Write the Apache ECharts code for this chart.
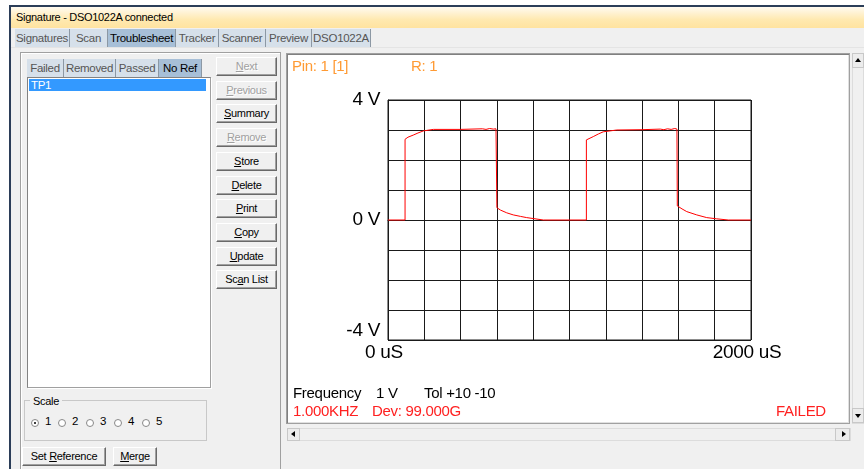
<!DOCTYPE html>
<html><head><meta charset="utf-8">
<script src="https://cdn.jsdelivr.net/npm/echarts@6/dist/echarts.min.js"></script>
<style>
html,body{margin:0;padding:0;}
body{width:864px;height:469px;overflow:hidden;background:#f0f0f0;position:relative;font-family:"Liberation Sans",Arial,sans-serif;font-size:11px;letter-spacing:-0.3px;color:#000;}
.a{position:absolute;box-sizing:border-box;}
.tab{position:absolute;top:29px;height:18px;line-height:18px;text-align:center;background:#d6e0ea;color:#555;border-right:1px solid #8c98a4;box-sizing:border-box;font-size:11.5px;}
.tab.sel{background:#a7bfd7;color:#000;}
.stab{position:absolute;top:59px;height:18px;line-height:18px;text-align:center;background:#d6e0ea;color:#555;border-right:1px solid #8c98a4;box-sizing:border-box;font-size:11.5px;}
.stab.sel{background:#a7bfd7;color:#000;}
.btn{position:absolute;height:19px;line-height:17px;text-align:center;background:#f0f0f0;box-sizing:border-box;border:1px solid;border-color:#fff #696969 #696969 #fff;box-shadow:inset -1px -1px 0 #a0a0a0;font-size:11px;}
.btn.dis{color:#a0a0a0;text-shadow:1px 1px 0 #fff;}
.radio{position:absolute;top:419px;width:8px;height:8px;border-radius:50%;border:1px solid #888;background:#fff;box-sizing:border-box;}
.rl{position:absolute;top:415px;font-size:11.5px;}
</style></head>
<body>
<div class="a" style="left:0;top:5px;width:864px;height:2px;background:#2b3d58"></div>
<div class="a" style="left:9px;top:5px;width:2px;height:464px;background:#2b3d58"></div>
<div class="a" style="left:0;top:0;width:9px;height:469px;background:#fff"></div>
<div class="a" style="left:0;top:0;width:864px;height:5px;background:#fff"></div>
<div class="a" style="left:11px;top:7px;width:853px;height:21px;background:linear-gradient(#fffaf0,#ffe9b0 60%,#ffe3a0);"></div>
<div class="a" style="left:16px;top:11px;font-size:11px;letter-spacing:-0.3px;">Signature - DSO1022A connected</div>

<div class="tab" style="left:15px;width:55px;">Signatures</div>
<div class="tab" style="left:70px;width:38px;">Scan</div>
<div class="tab sel" style="left:108px;width:68px;">Troublesheet</div>
<div class="tab" style="left:176px;width:43px;">Tracker</div>
<div class="tab" style="left:219px;width:47px;">Scanner</div>
<div class="tab" style="left:266px;width:46px;">Preview</div>
<div class="tab" style="left:312px;width:59px;">DSO1022A</div>
<div class="a" style="left:11px;top:47px;width:853px;height:1px;background:#e4e4e4"></div>

<!-- left group -->
<div class="a" style="left:20px;top:52px;width:261px;height:420px;border:1px solid #a0a0a0;box-shadow:inset 1px 1px 0 #fff;"></div>
<div class="stab" style="left:27px;width:37px;">Failed</div>
<div class="stab" style="left:64px;width:52px;">Removed</div>
<div class="stab" style="left:116px;width:43px;">Passed</div>
<div class="stab sel" style="left:159px;width:43px;">No Ref</div>
<div class="a" style="left:27px;top:77px;width:184px;height:311px;background:#fff;border:1px solid;border-color:#828282 #a0a0a0 #a0a0a0 #828282;box-shadow:1px 1px 0 #fff;"></div>
<div class="a" style="left:29px;top:79px;width:177px;height:12px;background:#3399ff;color:#fff;line-height:12px;padding-left:2px;font-size:11.5px;">TP1</div>

<div id="btns"></div>

<div class="a" style="left:24px;top:400px;width:183px;height:41px;border:1px solid #c8c8c8;"></div>
<div class="a" style="left:30px;top:395px;padding:0 3px;background:#f0f0f0;font-size:11px;">Scale</div>
<div class="radio" style="left:31px;"><div class="a" style="left:2px;top:2px;width:2px;height:2px;background:#000;border-radius:50%"></div></div>
<div class="rl" style="left:45px;">1</div>
<div class="radio" style="left:58px;"></div><div class="rl" style="left:72px;">2</div>
<div class="radio" style="left:86px;"></div><div class="rl" style="left:100px;">3</div>
<div class="radio" style="left:114px;"></div><div class="rl" style="left:128px;">4</div>
<div class="radio" style="left:142px;"></div><div class="rl" style="left:156px;">5</div>

<div class="btn" style="left:22px;top:447px;width:84px;">Set <u>R</u>eference</div>
<div class="btn" style="left:113px;top:447px;width:44px;"><u>M</u>erge</div>

<!-- right panel -->
<div class="a" style="left:286px;top:53px;width:564px;height:371px;border:1px solid #a0a0a0;border-right-color:#a0a0a0;background:#fff;box-shadow:inset 1px 1px 0 #808080, inset -1px -1px 0 #e0e0e0;"></div>
<div id="chart" class="a" style="left:289px;top:55px;width:558px;height:366px;"></div>
<!-- h scrollbar -->
<div class="a" style="left:287px;top:428px;width:564px;height:13px;background:#f0f0f0;border:1px solid #dcdcdc;"></div>
<div class="a" style="left:287px;top:428px;width:13px;height:13px;border:1px solid #c8c8c8;background:#ececec;"></div>
<div class="a" style="left:291px;top:431px;width:0;height:0;border-top:3px solid transparent;border-bottom:3px solid transparent;border-right:4px solid #000;"></div>
<div class="a" style="left:835px;top:428px;width:15px;height:13px;border:1px solid #c8c8c8;background:#ececec;"></div>
<div class="a" style="left:842px;top:431px;width:0;height:0;border-top:3px solid transparent;border-bottom:3px solid transparent;border-left:4px solid #000;"></div>
<!-- v scrollbar -->
<div class="a" style="left:852px;top:53px;width:12px;height:371px;background:#f0f0f0;border:1px solid #dcdcdc;"></div>
<div class="a" style="left:852px;top:53px;width:12px;height:15px;border:1px solid #c8c8c8;background:#ececec;"></div>
<div class="a" style="left:855px;top:58px;width:0;height:0;border-left:3px solid transparent;border-right:3px solid transparent;border-bottom:4px solid #000;"></div>
<div class="a" style="left:852px;top:408px;width:12px;height:15px;border:1px solid #c8c8c8;background:#ececec;"></div>
<div class="a" style="left:855px;top:414px;width:0;height:0;border-left:3px solid transparent;border-right:3px solid transparent;border-top:4px solid #000;"></div>

<script>
// ---- data ----
const traceTime = [0, 94, 94, 96, 110, 139, 165, 195, 250, 400, 520, 540, 560, 580, 595, 599, 600, 620, 654, 690, 730, 764, 856, 1000, 1093, 1093, 1100, 1131, 1160, 1186, 1260, 1400, 1500, 1520, 1540, 1560, 1580, 1592, 1594, 1620, 1646, 1701, 1756, 1810, 1875, 2000];
const traceVolt = [0, 0, 2.69, 2.70, 2.76, 2.83, 2.90, 2.97, 3.02, 3.02, 3.04, 3.02, 3.05, 3.03, 3.04, 3.03, 0.41, 0.33, 0.24, 0.17, 0.12, 0.08, 0.0, 0.0, 0, 2.67, 2.70, 2.78, 2.87, 2.94, 3.0, 3.01, 3.03, 3.01, 3.04, 3.02, 3.05, 3.03, 0.47, 0.37, 0.28, 0.17, 0.08, 0.04, 0.0, 0.0];
const yTickLabels = {"4": "4 V", "0": "0 V", "-4": "-4 V"};
const xTickLabels = {"0": "0 uS", "2000": "2000 uS"};
const buttonLabels = ["<u>N</u>ext", "<u>P</u>revious", "<u>S</u>ummary", "<u>R</u>emove", "<u>S</u>tore", "<u>D</u>elete", "<u>P</u>rint", "<u>C</u>opy", "<u>U</u>pdate", "Sc<u>a</u>n List"];
const buttonDisabled = [true, true, false, true, false, false, false, false, false, false];

// side buttons
const bc = document.getElementById('btns');
buttonLabels.forEach((t, i) => {
  const d = document.createElement('div');
  d.className = 'btn' + (buttonDisabled[i] ? ' dis' : '');
  d.style.left = '216px';
  d.style.width = '61px';
  d.style.top = Math.round(57 + i * 23.7) + 'px';
  d.innerHTML = t;
  bc.appendChild(d);
});

const chart = echarts.init(document.getElementById('chart'), null, {renderer: 'canvas'});
const F = '"Liberation Sans", Arial, sans-serif';
chart.setOption({
  animation: false,
  backgroundColor: '#fff',
  grid: {left: 99, top: 45, width: 363, height: 240},
  xAxis: {
    type: 'value', min: 0, max: 2000, interval: 200,
    axisLine: {show: true, lineStyle: {color: '#1a1a1a', width: 1}},
    axisTick: {show: false},
    splitLine: {show: true, lineStyle: {color: '#1a1a1a', width: 1}},
    axisLabel: {
      show: true, margin: 3, color: '#000', fontFamily: F, fontSize: 19,
      padding: [0, 8, 0, 0],
      showMinLabel: true, showMaxLabel: true,
      formatter: v => xTickLabels[String(v)] || ''
    }
  },
  yAxis: {
    type: 'value', min: -4, max: 4, interval: 1,
    axisLine: {show: true, lineStyle: {color: '#1a1a1a', width: 1}},
    axisTick: {show: false},
    splitLine: {show: true, lineStyle: {color: '#1a1a1a', width: 1}},
    axisLabel: {
      show: true, margin: 8, color: '#000', fontFamily: F, fontSize: 19,
      verticalAlignMinLabel: 'bottom',
      formatter: v => yTickLabels[String(v)] || ''
    }
  },
  graphic: [
    {type: 'rect', shape: {x: 99, y: 45, width: 363, height: 240}, style: {fill: 'none', stroke: '#1a1a1a', lineWidth: 1}, z: 1, silent: true},
    {type: 'text', left: 3, top: 4, style: {text: 'Pin: 1 [1]', fill: '#ff9a33', font: '15px ' + F}},
    {type: 'text', left: 122, top: 4, style: {text: 'R: 1', fill: '#ff9a33', font: '15px ' + F}},
    {type: 'text', left: 4, top: 331, style: {text: 'Frequency', fill: '#000', font: '15px ' + F}},
    {type: 'text', left: 87, top: 331, style: {text: '1 V', fill: '#000', font: '15px ' + F}},
    {type: 'text', left: 135, top: 331, style: {text: 'Tol +10 -10', fill: '#000', font: '15px ' + F}},
    {type: 'text', left: 4, top: 349, style: {text: '1.000KHZ', fill: '#ff2020', font: '15px ' + F}},
    {type: 'text', left: 83, top: 349, style: {text: 'Dev: 99.000G', fill: '#ff2020', font: '15px ' + F}},
    {type: 'text', left: 487, top: 349, style: {text: 'FAILED', fill: '#ff2020', font: '15px ' + F}}
  ],
  series: [{
    type: 'line',
    data: traceTime.map((t, i) => [t, traceVolt[i]]),
    showSymbol: false,
    lineStyle: {color: '#ff0000', width: 1},
    z: 5,
    clip: false
  }]
});
</script>
</body></html>
